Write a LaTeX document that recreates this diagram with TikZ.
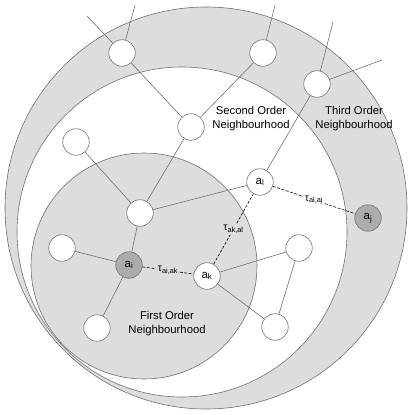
\documentclass[tikz,border=0pt]{standalone}
\usepackage{fontspec}
\setmainfont{Liberation Sans}
\usetikzlibrary{calc}
\definecolor{ringgray}{RGB}{220,221,221}
\definecolor{agentgray}{RGB}{172,172,172}
\definecolor{linegray}{RGB}{112,112,112}

\begin{document}
\begin{tikzpicture}[x=1pt, y=-1pt,
  agent/.style = {shape=circle, draw=linegray, fill=white, line width=0.6pt,
    minimum size=26.5pt, inner sep=0pt, font=\fontsize{11.5}{12}\selectfont},
  focal/.style = {agent, fill=agentgray},
  link/.style = {draw=linegray, line width=0.6pt},
  trail/.style = {draw=black, line width=0.6pt, dash pattern=on 3pt off 1.5pt},
  tau/.style = {inner sep=1.5pt, font=\fontsize{10.5}{11}\selectfont},
  region/.style = {draw=linegray, line width=0.6pt},
  caption/.style = {align=center, font=\fontsize{11.3}{14}\selectfont}]
  \useasboundingbox (0,0) rectangle (415,415);

  \draw[region, fill=ringgray] (206,208) circle (201);
  \draw[region, fill=white] (182,232) circle (165);
  \draw[region, fill=ringgray] (144,266) circle (113);

  \node[agent] (ta) at (122,53) {};
  \node[agent] (tb) at (263,53) {};
  \node[agent] (tc) at (317,84) {};
  \node[agent] (sa) at (191,127) {};
  \node[agent] (sb) at (76,142) {};
  \node[agent] (hub) at (140,213) {};
  \node[agent] (al) at (260,182) {a\textsubscript{l}};
  \node[focal] (aj) at (368,218) {a\textsubscript{j}};
  \node[agent] (fl) at (62,248) {};
  \node[focal] (ai) at (129,265) {a\textsubscript{i}};
  \node[agent] (ak) at (207,276) {a\textsubscript{k}};
  \node[agent] (fb) at (97,328) {};
  \node[agent] (ra) at (299,248) {};
  \node[agent] (rb) at (275,327) {};

  \coordinate (ta1) at (87,16);
  \coordinate (ta2) at (135,5);
  \coordinate (tb1) at (275,5);
  \coordinate (tc1) at (333,22);
  \coordinate (tc2) at (382,60);

  \draw[link] (ta) -- (ta1);
  \draw[link] (ta) -- (ta2);
  \draw[link] (tb) -- (tb1);
  \draw[link] (tc) -- (tc1);
  \draw[link] (tc) -- (tc2);
  \draw[link] (ta) -- (sa);
  \draw[link] (tb) -- (sa);
  \draw[link] (tc) -- (al);
  \draw[link] (sa) -- (hub);
  \draw[link] (sb) -- (hub);
  \draw[link] (hub) -- (al);
  \draw[link] (hub) -- (ai);
  \draw[link] (fl) -- (ai);
  \draw[link] (ai) -- (fb);
  \draw[link] (ak) -- (ra);
  \draw[link] (ak) -- (rb);
  \draw[link] (ra) -- (rb);

  \node[tau] (tik) at ($(ai)!.5!(ak)$) {τ\textsubscript{ai,ak}};
  \node[tau] (tkl) at ($(ak)!.5!(al)$) {τ\textsubscript{ak,al}};
  \node[tau] (tlj) at ($(al)!.5!(aj)$) {τ\textsubscript{al,aj}};
  \draw[trail] (ai) -- (tik) -- (ak);
  \draw[trail] (ak) -- (tkl) -- (al);
  \draw[trail] (al) -- (tlj) -- (aj);

  \node[caption] (second) at (251,119) {Second Order\\Neighbourhood};
  \node[caption] (third) at (354,119) {Third Order\\Neighbourhood};
  \node[caption] (first) at (167,324) {First Order\\Neighbourhood};
\end{tikzpicture}
\end{document}
